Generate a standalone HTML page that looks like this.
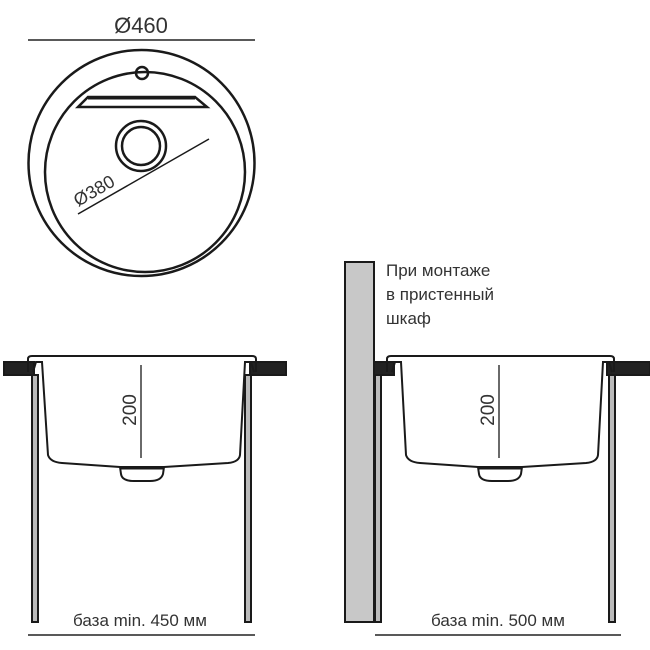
<!DOCTYPE html>
<html><head><meta charset="utf-8"><style>html,body{margin:0;padding:0;background:#fff}svg{display:block}</style></head>
<body>
<svg width="650" height="650" viewBox="0 0 650 650" xmlns="http://www.w3.org/2000/svg" font-family="Liberation Sans, sans-serif">
<!-- top view -->
<text x="141" y="33" font-size="22" text-anchor="middle" fill="#333">Ø460</text>
<line x1="28" y1="40" x2="255" y2="40" stroke="#222" stroke-width="1.5"/>
<circle cx="141.5" cy="163" r="113" fill="none" stroke="#1a1a1a" stroke-width="2.5"/>
<circle cx="145" cy="172" r="100" fill="none" stroke="#1a1a1a" stroke-width="2.5"/>
<circle cx="142" cy="73" r="6" fill="none" stroke="#1a1a1a" stroke-width="2.5"/>
<polygon points="88,97 195,97 207,107 78,107" fill="#fff" stroke="#1a1a1a" stroke-width="2.5"/>
<line x1="88" y1="98" x2="195" y2="98" stroke="#1a1a1a" stroke-width="3"/>
<circle cx="141" cy="146" r="25" fill="none" stroke="#1a1a1a" stroke-width="2.5"/>
<circle cx="141" cy="146" r="19" fill="none" stroke="#1a1a1a" stroke-width="2.5"/>
<line x1="78" y1="214" x2="209" y2="139" stroke="#1a1a1a" stroke-width="1.5"/>
<text x="0" y="0" font-size="18" fill="#333" transform="translate(78,207) rotate(-30)">Ø380</text>

<!-- left section -->
<g stroke="#1a1a1a" stroke-width="2">
<rect x="4" y="362" width="30" height="13" fill="#222"/>
<rect x="250" y="362" width="36" height="13" fill="#222"/>
<rect x="32" y="375" width="6" height="247" fill="#bbb"/>
<rect x="245" y="375" width="6" height="247" fill="#bbb"/>
<path d="M28,372 L28,359 Q28,356 32,356 L252,356 Q256,356 256,359 L256,372" fill="none"/>
<path d="M33,372 L36,362 L42,362 L48,455 Q50,462 62,463 L120,467 L164,467 L228,463 Q239,462 240,455 L245,362 L251,362 L254,372" fill="none"/>
<path d="M120,467 L164,467 L163,474 Q161,481 150,481 L134,481 Q122,481 121,474 Z" fill="#fff"/>
<line x1="120" y1="468" x2="164" y2="468" stroke-width="3"/>
<line x1="141" y1="365" x2="141" y2="458" stroke-width="1.3"/>
</g>
<text x="0" y="0" font-size="19" fill="#333" text-anchor="middle" transform="translate(136,410) rotate(-90)">200</text>
<text x="140" y="626" font-size="17" fill="#333" text-anchor="middle">база min. 450 мм</text>
<line x1="28" y1="635" x2="255" y2="635" stroke="#222" stroke-width="1.5"/>

<!-- right section -->
<g stroke="#1a1a1a" stroke-width="2">
<rect x="345" y="262" width="29" height="360" fill="#c8c8c8"/>
<rect x="374" y="362" width="20" height="13" fill="#222"/>
<rect x="607" y="362" width="43" height="13" fill="#222"/>
<rect x="375" y="375" width="6" height="247" fill="#bbb"/>
<rect x="609" y="375" width="6" height="247" fill="#bbb"/>
<path d="M387,372 L387,359 Q387,356 391,356 L610,356 Q614,356 614,359 L614,372" fill="none"/>
<path d="M392,372 L395,362 L401,362 L406,455 Q408,462 420,463 L478,467 L522,467 L586,463 Q597,462 598,455 L603,362 L609,362 L612,372" fill="none"/>
<path d="M478,467 L522,467 L521,474 Q519,481 508,481 L492,481 Q480,481 479,474 Z" fill="#fff"/>
<line x1="478" y1="468" x2="522" y2="468" stroke-width="3"/>
<line x1="499" y1="365" x2="499" y2="458" stroke-width="1.3"/>
</g>
<text x="0" y="0" font-size="19" fill="#333" text-anchor="middle" transform="translate(494,410) rotate(-90)">200</text>
<text x="386" y="276" font-size="17" fill="#333">При монтаже</text>
<text x="386" y="300" font-size="17" fill="#333">в пристенный</text>
<text x="386" y="324" font-size="17" fill="#333">шкаф</text>
<text x="498" y="626" font-size="17" fill="#333" text-anchor="middle">база min. 500 мм</text>
<line x1="375" y1="635" x2="621" y2="635" stroke="#222" stroke-width="1.5"/>
</svg>
</body></html>
